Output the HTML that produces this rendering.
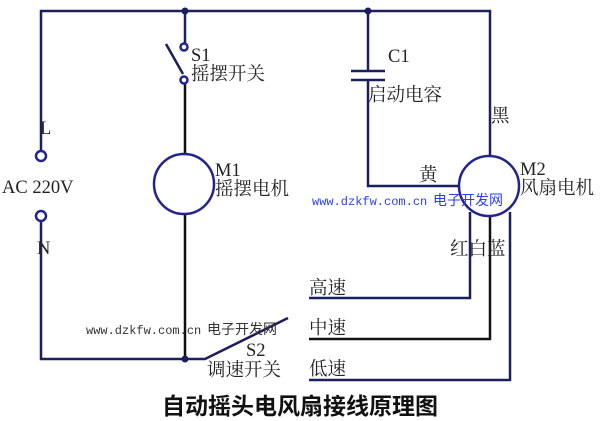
<!DOCTYPE html>
<html><head><meta charset="utf-8"><style>
html,body{margin:0;padding:0;background:#fff;}
svg{display:block;}
.t{font-family:"Liberation Serif","Noto Serif CJK SC",serif;fill:#222;font-size:18.5px;}
</style></head><body>
<svg width="604" height="421" viewBox="0 0 604 421" xmlns="http://www.w3.org/2000/svg">
<g stroke="#1b1f5e" stroke-width="2.5" fill="none">
<polyline points="41,150 41,11 490,11 490,156"/>
<line x1="185" y1="11" x2="185" y2="43"/>
<line x1="185" y1="84" x2="185" y2="154" stroke="#111"/>
<line x1="185" y1="214" x2="185" y2="359" stroke="#111"/>
<polyline points="41,221 41,359 205,359 288,318"/>
<line x1="166" y1="44" x2="183" y2="74"/>
<polyline points="368,11 368,71"/>
<line x1="351" y1="71" x2="385" y2="71"/>
<line x1="351" y1="80" x2="385" y2="80"/>
<polyline points="368,80 368,186 459,186"/>
<polyline points="470,212 470,298 309,298"/>
<polyline points="490,216 490,339 309,339" stroke="#111"/>
<polyline points="510,212 510,380 309,380"/>
</g>
<g fill="#fff" stroke="#23238c" stroke-width="2.5">
<circle cx="41" cy="156" r="5"/>
<circle cx="41" cy="216" r="5"/>
<circle cx="184" cy="47" r="3.5"/>
<circle cx="184" cy="80" r="3.5"/>
<circle cx="184" cy="184" r="30"/>
<circle cx="489" cy="186" r="30"/>
</g>
<circle cx="185" cy="11" r="3.5" fill="#1b1f5e"/>
<circle cx="368" cy="11" r="3.5" fill="#1b1f5e"/>
<circle cx="185" cy="359" r="3.5" fill="#1b1f5e"/>
<text class="t" x="40" y="134">L</text>
<text class="t" x="37" y="254">N</text>
<text class="t" x="2" y="193">AC  220V</text>
<text class="t" x="191" y="61">S1</text>
<text class="t" x="191" y="80">摇摆开关</text>
<text class="t" x="215" y="176">M1</text>
<text class="t" x="215" y="195">摇摆电机</text>
<text class="t" x="388" y="62">C1</text>
<text class="t" x="368" y="101">启动电容</text>
<text class="t" x="491" y="122">黑</text>
<text class="t" x="419" y="181">黄</text>
<text class="t" x="520" y="175">M2</text>
<text class="t" x="520" y="194">风扇电机</text>
<text class="t" x="450" y="255">红白蓝</text>
<text class="t" x="309" y="294">高速</text>
<text class="t" x="309" y="334">中速</text>
<text class="t" x="309" y="375">低速</text>
<text class="t" x="246" y="356">S2</text>
<text class="t" x="207" y="376">调速开关</text>
<text x="312" y="205" font-family="Liberation Mono,monospace" font-size="12" fill="#2a3cff">www.dzkfw.com.cn</text>
<text x="433" y="205" font-family="Liberation Sans,Noto Sans CJK SC,sans-serif" font-size="14" fill="#2a3cff">电子开发网</text>
<text x="86" y="334" font-family="Liberation Mono,monospace" font-size="12" fill="#333">www.dzkfw.com.cn</text>
<text x="207" y="334" font-family="Liberation Sans,Noto Sans CJK SC,sans-serif" font-size="14" fill="#333">电子开发网</text>
<text x="300" y="414" text-anchor="middle" font-family="Liberation Sans,Noto Sans CJK SC,sans-serif" font-size="23" font-weight="bold" fill="#111">自动摇头电风扇接线原理图</text>
</svg>
</body></html>
